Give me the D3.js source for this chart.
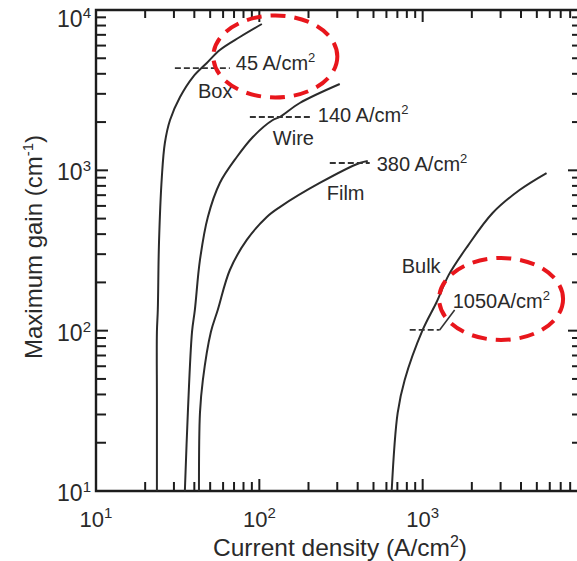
<!DOCTYPE html>
<html><head><meta charset="utf-8">
<script src="https://cdn.jsdelivr.net/npm/d3@7"></script>
<style>
body{margin:0;background:#fff}
svg{display:block}
text{font-family:"Liberation Sans",Arial,Helvetica,sans-serif;fill:#2a2a2a}
</style>
</head><body>
<svg id="chart" width="577" height="561"></svg>
<script>
// ---------- data ----------
const boxX  = [23.6, 23.6, 23.6, 23.9, 24.3, 25.3, 26.4, 28.4, 32.7, 39.2, 47.7, 57.3, 76.0, 103.6];
const boxY  = [10, 36.9, 98, 135, 352, 908, 1481, 2061, 2867, 3819, 4672, 5630, 6785, 8178];
const wireX = [35.0, 36.5, 38.7, 40.3, 43.3, 48.4, 57.3, 72.8, 91.3, 120.9, 133.5, 176.9, 310.7];
const wireY = [10, 30.7, 98, 135, 276, 512, 834, 1211, 1615, 2061, 2151, 2630, 3455];
const filmX = [42.7, 43.3, 45.1, 50.5, 55.7, 66.0, 83.8, 111.1, 133.5, 234.4, 411.8, 461];
const filmY = [10, 30.7, 49.2, 98, 135, 239, 368, 512, 590, 834, 1111, 1144];
const bulkX = [646, 703, 776, 1000, 1218, 1442, 1885, 2680, 3920, 5734];
const bulkY = [10, 30.7, 49.2, 101, 151, 222, 337, 542, 754, 962];

const seriesNames = ["Box", "Wire", "Film", "Bulk"];
const thresholdLabels = ["45 A/cm", "140 A/cm", "380 A/cm", "1050A/cm"];
// threshold marker lines: [x0, x1, y]
const markX0 = [30.4, 87.5, 270, 833];
const markX1 = [66.0, 212, 474, 1270];
const markY  = [4345, 2151, 1111, 101];
// bulk leader line
const leaderX = [1270, 1569];
const leaderY = [101, 134.6];
// label anchor positions (data coords)
const nameX = [42.1, 121, 258.7, 744];
const nameY = [2826, 1439, 653, 229];
const thrX  = [71.8, 228, 523, 1526];
const thrY  = [4225, 2002, 991, 138.5];
// highlight ellipse centres (data coords)
const ellX = [125.3, 3020];
const ellY = [5130, 157.6];

const xLabelVals = [10, 100, 1000];
const xLabelExp  = ["1", "2", "3"];
const yLabelVals = [10, 100, 1000, 10000];
const yLabelExp  = ["1", "2", "3", "4"];
const decades = [10, 100, 1000, 10000];

// ---------- layout ----------
const svg = d3.select("#chart");
const x = d3.scaleLog().domain([10, 10000]).range([96, 586]);
const y = d3.scaleLog().domain([10, 10000]).range([491, 10]);

function minors(lo, hi){
  const out=[];
  for(let d=lo; d<hi; d*=10) for(let k=2;k<=9;k++) out.push(d*k);
  return out;
}
const xMinor = minors(10, 10000);
const yMinor = minors(10, 10000);
const ink = "#1c1c1c";

// frame
const x0=x(10), x1=x(10000), y0=y(10), y1=y(10000);
svg.append("path")
  .attr("d",`M${x1},${y1}H${x0}V${y0}H${x1}V${y1}`)
  .attr("fill","none").attr("stroke",ink).attr("stroke-width",2.4);

// ticks
const tg = svg.append("g").attr("stroke",ink).attr("stroke-width",2);
function vTicks(vals, yy, len){
  tg.selectAll(null).data(vals).join("line")
    .attr("x1",d=>x(d)).attr("x2",d=>x(d)).attr("y1",yy).attr("y2",yy+len);
}
function hTicks(vals, xx, len){
  tg.selectAll(null).data(vals).join("line")
    .attr("y1",d=>y(d)).attr("y2",d=>y(d)).attr("x1",xx).attr("x2",xx+len);
}
vTicks(decades, y0, -12); vTicks(xMinor, y0, -9);
vTicks(decades, y1, 12);  vTicks(xMinor, y1, 8);
hTicks(decades, x0, 12);  hTicks(yMinor, x0, 10);
hTicks(decades, x1, -18); hTicks(yMinor, x1, -14);

// tick labels
function powLabel(sel, exp){
  sel.append("tspan").text("10");
  sel.append("tspan").attr("dy", -9).attr("font-size", 15).text(exp);
}
xLabelVals.forEach((v,i)=>{
  const t = svg.append("text").attr("x", x(v)).attr("y", 527)
    .attr("text-anchor","middle").attr("font-size", 22);
  powLabel(t, xLabelExp[i]);
});
yLabelVals.forEach((v,i)=>{
  const t = svg.append("text").attr("x", 91).attr("y", Math.max(y(v)+10, 27))
    .attr("text-anchor","end").attr("font-size", 23);
  powLabel(t, yLabelExp[i]);
});

// axis titles
const xt = svg.append("text").attr("x", 340).attr("y", 556).attr("text-anchor","middle").attr("font-size", 24.5);
xt.append("tspan").text("Current density (A/cm");
xt.append("tspan").attr("dy",-9).attr("font-size",16).text("2");
xt.append("tspan").attr("dy",9).text(")");

const yt = svg.append("text").attr("transform","translate(42,247) rotate(-90)")
  .attr("text-anchor","middle").attr("font-size", 24);
yt.append("tspan").text("Maximum gain (cm");
yt.append("tspan").attr("dy",-9).attr("font-size",15).text("-1");
yt.append("tspan").attr("dy",9).text(")");

// curves
const line = d3.line().x(d=>x(d[0])).y(d=>y(d[1])).curve(d3.curveCatmullRom.alpha(0.5));
const series = [[boxX,boxY],[wireX,wireY],[filmX,filmY],[bulkX,bulkY]];
series.forEach(([xs,ys])=>{
  svg.append("path").datum(xs.map((v,i)=>[v,ys[i]]))
    .attr("d", line).attr("fill","none").attr("stroke","#2b2b2b").attr("stroke-width",2);
});

// threshold dashed markers
markY.forEach((v,i)=>{
  svg.append("line").attr("x1",x(markX0[i])).attr("x2",x(markX1[i]))
    .attr("y1",y(v)).attr("y2",y(v))
    .attr("stroke","#333").attr("stroke-width",1.8).attr("stroke-dasharray","6,3");
});
svg.append("line").attr("x1",x(leaderX[0])).attr("y1",y(leaderY[0]))
  .attr("x2",x(leaderX[1])).attr("y2",y(leaderY[1]))
  .attr("stroke","#333").attr("stroke-width",1.6);

// series labels
seriesNames.forEach((n,i)=>{
  svg.append("text").attr("x",x(nameX[i])).attr("y",y(nameY[i])).attr("font-size",20).text(n);
});
thresholdLabels.forEach((n,i)=>{
  const t = svg.append("text").attr("x",x(thrX[i])).attr("y",y(thrY[i])).attr("font-size",20);
  t.append("tspan").text(n);
  t.append("tspan").attr("dy",-8).attr("font-size",13).text("2");
});

// red dashed highlight ellipses
ellX.forEach((v,i)=>{
  svg.append("ellipse").attr("cx",x(v)).attr("cy",y(ellY[i]))
    .attr("rx", 62).attr("ry", 41)
    .attr("fill","none").attr("stroke","#e8161c").attr("stroke-width",4)
    .attr("stroke-dasharray","15,9");
});
</script>
</body></html>
